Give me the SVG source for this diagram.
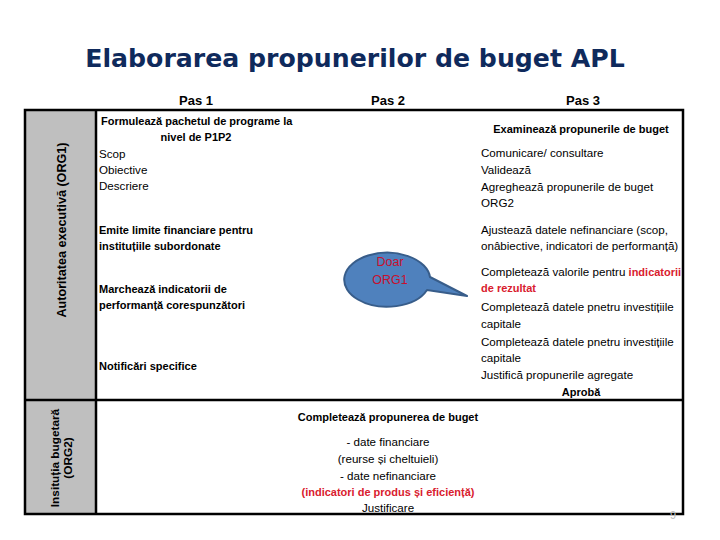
<svg xmlns="http://www.w3.org/2000/svg" width="720" height="540" viewBox="0 0 720 540">
<style>
  .t{font-family:"Liberation Sans",Arial,sans-serif;font-size:11.6px;fill:#000}
  .b{font-weight:bold;font-size:11px}
  .c{text-anchor:middle}
  .r{fill:#D9202E;font-weight:bold;font-size:11px}
  .h{font-family:"Liberation Sans",Arial,sans-serif;font-size:13px;font-weight:bold;text-anchor:middle;fill:#000}
  .title{font-family:"DejaVu Sans",Verdana,sans-serif;font-size:25.2px;font-weight:bold;fill:#0F2A5C;text-anchor:middle}
  .frame{fill:none;stroke:#000;stroke-width:2.5}
  .lbl{font-family:"Liberation Sans",Arial,sans-serif;font-weight:bold;fill:#000;text-anchor:middle}
</style>
<rect width="720" height="540" fill="#fff"/>
<text class="title" x="355" y="67">Elaborarea propunerilor  de buget APL</text>

<g id="headers">
  <text class="h" x="196" y="105">Pas 1</text>
  <text class="h" x="388" y="105">Pas 2</text>
  <text class="h" x="583" y="105">Pas 3</text>
</g>

<g id="org1-label">
  <rect x="25" y="110" width="71" height="290" fill="#BFBFBF"/>
  <text class="lbl" font-size="12.6" transform="translate(66,230) rotate(-90)">Autoritatea executivă (ORG1)</text>
</g>
<g id="org2-label">
  <rect x="25" y="400" width="71" height="114" fill="#BFBFBF"/>
  <text class="lbl" font-size="11.8" transform="translate(59,458) rotate(-90)">Insituția bugetară</text>
  <text class="lbl" font-size="11.8" transform="translate(72,458) rotate(-90)">(ORG2)</text>
</g>

<g id="frame">
  <rect class="frame" x="25" y="110" width="658" height="404"/>
  <line class="frame" x1="96" y1="110" x2="96" y2="514"/>
  <line class="frame" x1="25" y1="400" x2="683" y2="400"/>
</g>

<g id="pas1">
  <text class="t b" x="101" y="125">Formulează pachetul de programe la</text>
  <text class="t b c" x="196" y="141">nivel de P1P2</text>
  <text class="t" x="99" y="158">Scop</text>
  <text class="t" x="99" y="174">Obiective</text>
  <text class="t" x="99" y="190">Descriere</text>
  <text class="t b" x="99" y="234">Emite limite financiare pentru</text>
  <text class="t b" x="99" y="250">instituțiile subordonate</text>
  <text class="t b" x="99" y="293">Marchează indicatorii de</text>
  <text class="t b" x="99" y="309">performanță corespunzători</text>
  <text class="t b" x="99" y="370">Notificări specifice</text>
</g>

<g id="pas3">
  <text class="t b c" x="581" y="133">Examinează propunerile de buget</text>
  <text class="t" x="481" y="157">Comunicare/ consultare</text>
  <text class="t" x="481" y="174">Validează</text>
  <text class="t" x="481" y="191">Agreghează propunerile de buget</text>
  <text class="t" x="481" y="207">ORG2</text>
  <text class="t" x="481" y="234">Ajustează datele nefinanciare (scop,</text>
  <text class="t" x="481" y="250">onâbiective, indicatori de performanță)</text>
  <text class="t" x="481" y="276">Completează valorile pentru <tspan class="r">indicatorii</tspan></text>
  <text class="t r" x="481" y="292">de rezultat</text>
  <text class="t" x="481" y="311">Completează datele pnetru investițiile</text>
  <text class="t" x="481" y="328">capitale</text>
  <text class="t" x="481" y="346">Completează datele pnetru investițiile</text>
  <text class="t" x="481" y="362">capitale</text>
  <text class="t" x="481" y="379">Justifică propunerile agregate</text>
  <text class="t b c" x="581" y="396">Aprobă</text>
</g>

<g id="org2-content">
  <text class="t b c" x="388" y="421">Completează propunerea de buget</text>
  <text class="t c" x="388" y="446">- date financiare</text>
  <text class="t c" x="388" y="463">(reurse și cheltuieli)</text>
  <text class="t c" x="388" y="480">- date nefinanciare</text>
  <text class="t c r" x="388" y="496">(indicatori de produs și eficiență)</text>
  <text class="t c" x="388" y="512">Justificare</text>
</g>

<g id="callout">
  <path d="M430,277 A43,27 0 1 0 427,290 L467,296 Z" fill="#4F81BD" stroke="#385D8A" stroke-width="2" stroke-linejoin="round"/>
  <text class="t c" x="390" y="266" style="fill:#C8102E;font-size:12.5px">Doar</text>
  <text class="t c" x="390" y="284" style="fill:#C8102E;font-size:12.5px">ORG1</text>
</g>

<text x="673" y="519" font-family="Liberation Sans,Arial,sans-serif" font-size="11" fill="#BBBBBB" text-anchor="middle">9</text>
</svg>
